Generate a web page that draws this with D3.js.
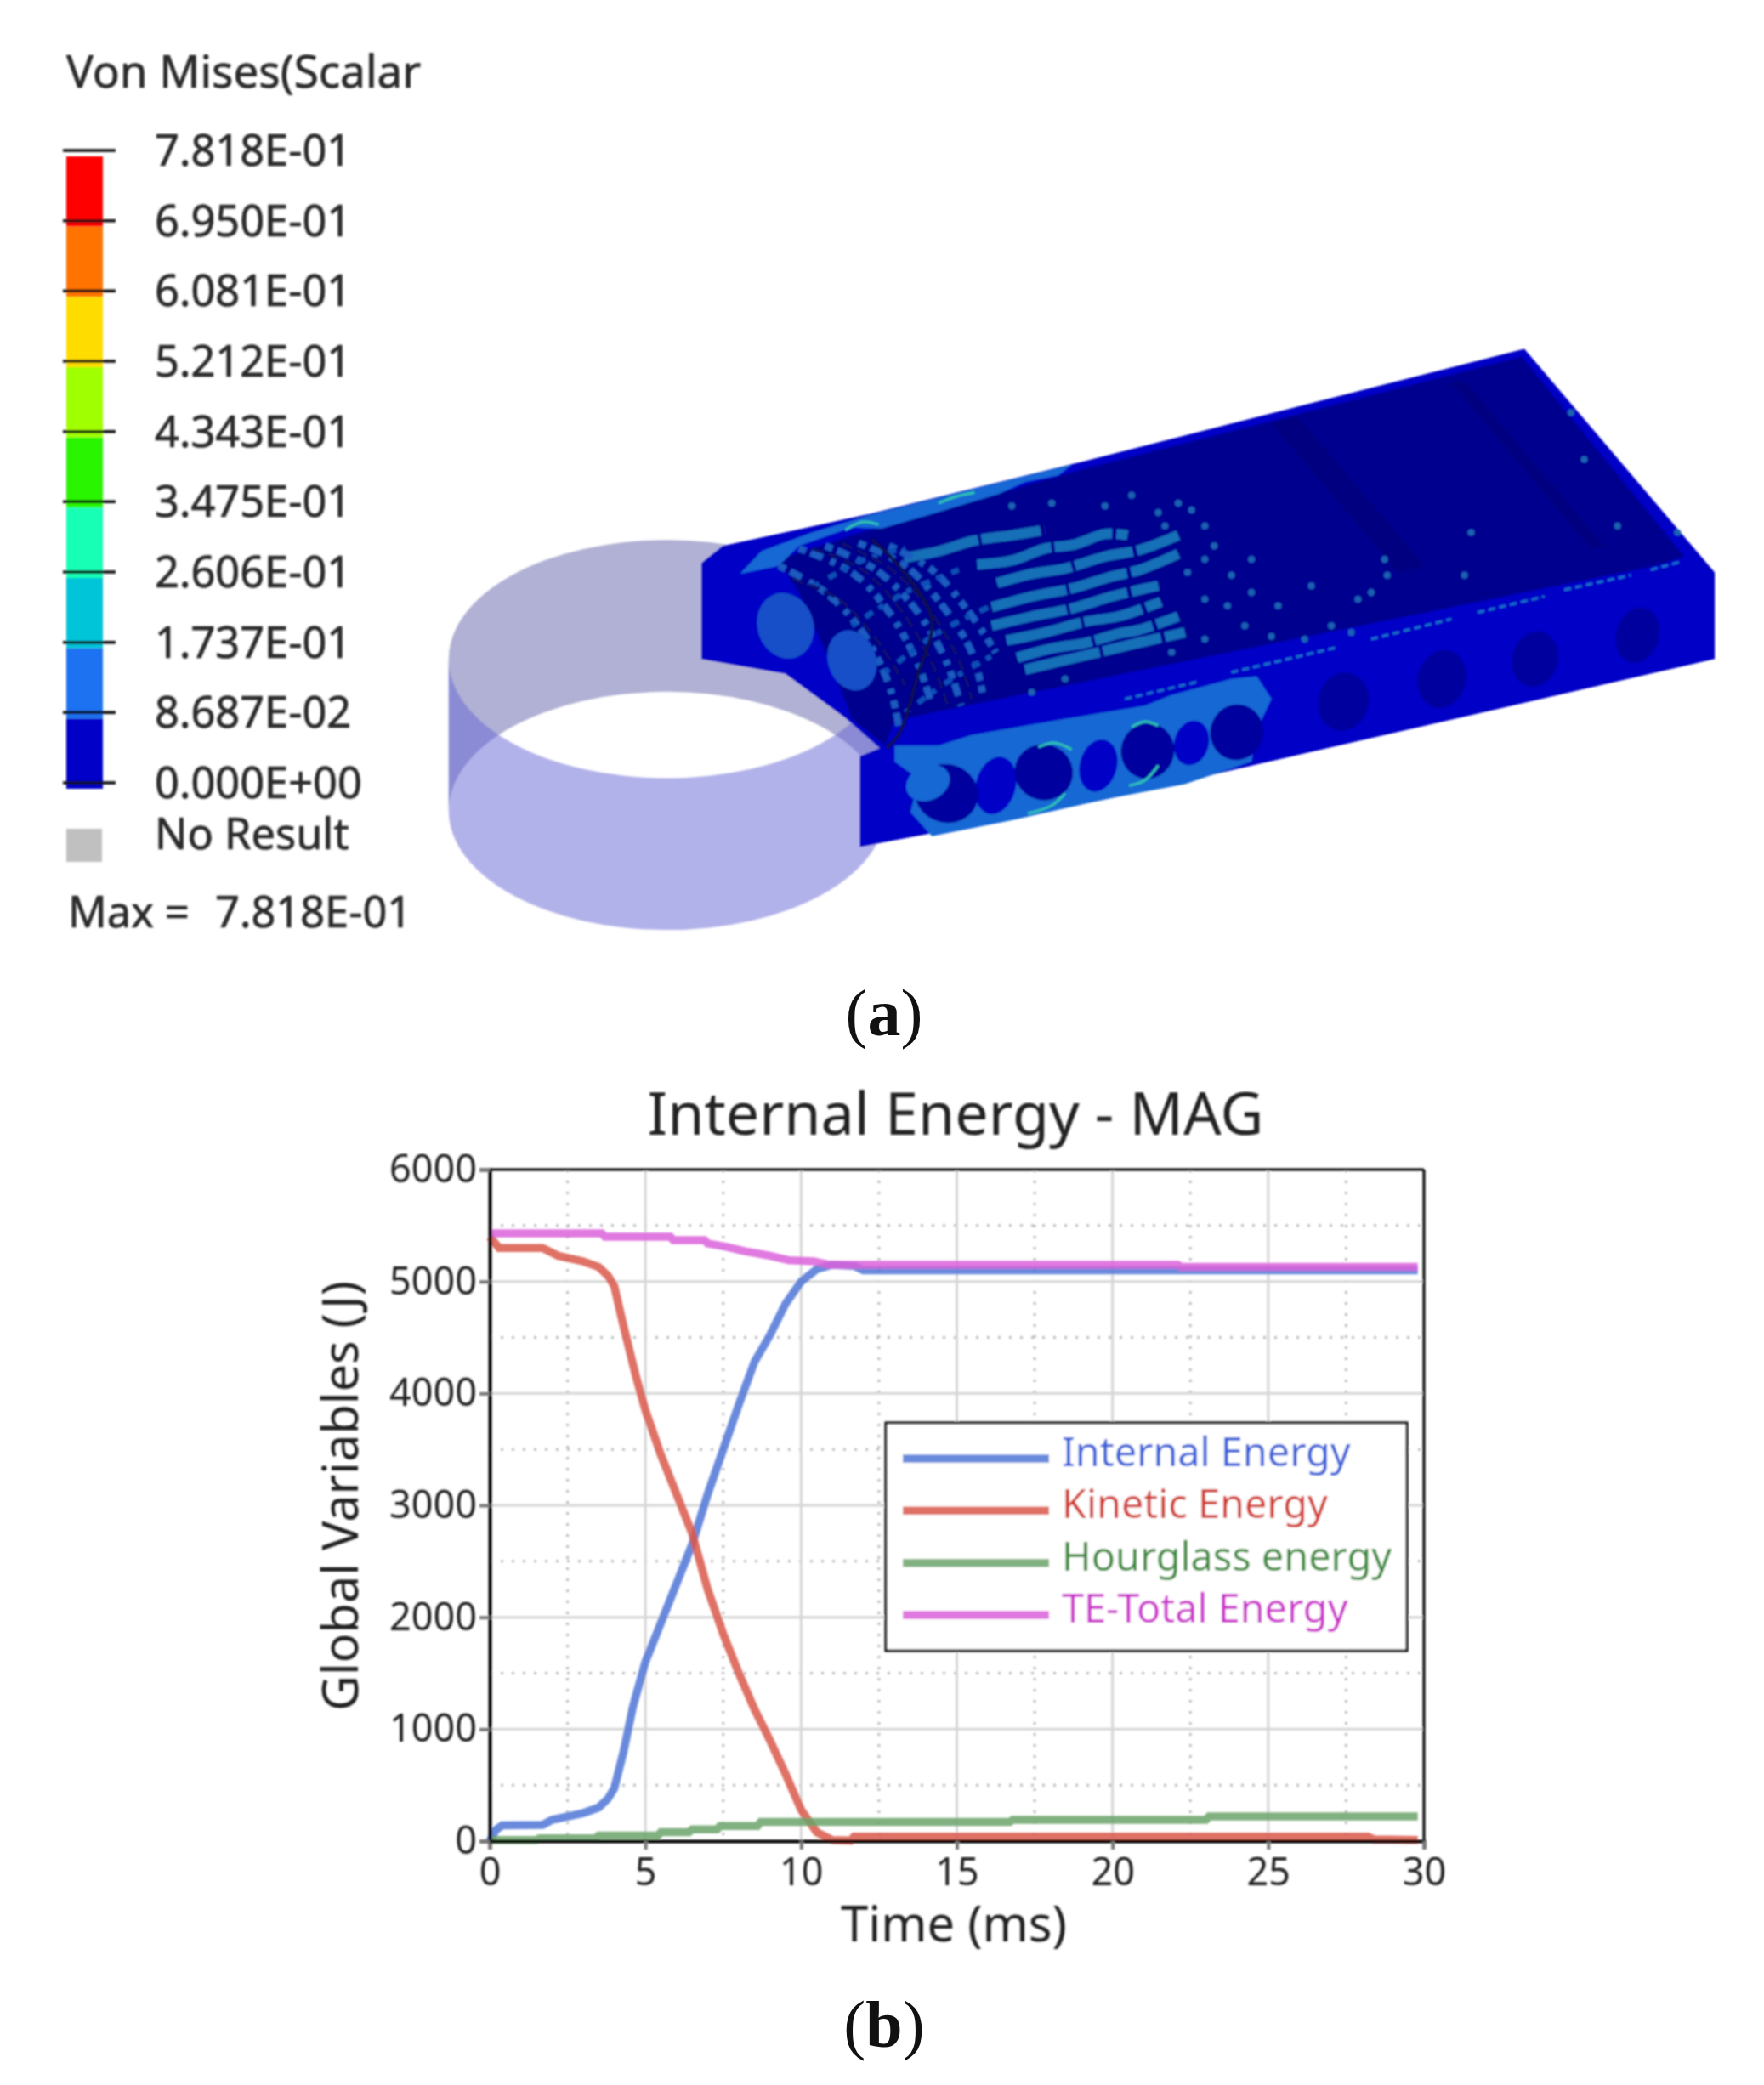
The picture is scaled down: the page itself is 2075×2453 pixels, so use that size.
<!DOCTYPE html>
<html>
<head>
<meta charset="utf-8">
<title>Internal Energy - MAG</title>
<script src="https://cdn.jsdelivr.net/npm/d3@7"></script>
<style>
  body { margin: 0; background: #fff; }
  svg { display: block; }
  text { font-family: "Noto Sans", "Open Sans", sans-serif; }
</style>
</head>
<body>
<div id="chart"></div>
<script>
// Contour legend
const legendLabels = ["7.818E-01", "6.950E-01", "6.081E-01", "5.212E-01", "4.343E-01", "3.475E-01", "2.606E-01", "1.737E-01", "8.687E-02", "0.000E+00"];
const legendColors = ["#ff0000", "#ff7300", "#ffdc00", "#a0ff00", "#2cf500", "#18ffb4", "#00c4d8", "#1a72f0", "#0000c8"];

// Energy curves: [time in ms, energy in J]
const internalEnergy = [[0,0],[0.2,100],[0.4,140],[1.7,145],[2,190],[3,250],[3.5,300],[3.8,380],[4,470],[4.3,800],[4.6,1200],[5,1600],[5.5,1950],[6,2300],[6.5,2650],[7,3100],[7.5,3500],[8,3900],[8.5,4280],[9,4520],[9.5,4800],[10,5000],[10.5,5110],[11,5150],[11.7,5140],[12,5100],[29.8,5100]];
const kineticEnergy = [[0,5400],[0.3,5300],[1.7,5300],[2.2,5230],[3,5180],[3.5,5130],[3.8,5050],[4,4960],[4.3,4600],[4.7,4150],[5,3850],[5.5,3450],[6,3100],[6.5,2750],[7,2250],[7.5,1850],[8,1500],[8.5,1180],[9,900],[9.5,600],[10,280],[10.5,80],[11,10],[11.6,5],[11.7,40],[28.2,40],[28.4,15],[29.8,10]];
const hourglassEnergy = [[0,10],[1.5,10],[1.6,25],[3.4,25],[3.5,50],[5.4,50],[5.5,80],[6.4,80],[6.5,105],[7.3,105],[7.4,135],[8.6,135],[8.7,170],[16.7,170],[16.8,190],[23,190],[23.1,220],[29.8,220]];
const totalEnergy = [[0,5430],[3.6,5430],[3.7,5400],[5.8,5400],[5.9,5370],[6.9,5370],[7,5340],[7.6,5310],[8.2,5270],[9,5230],[9.6,5190],[10.4,5180],[10.9,5150],[22.1,5150],[22.2,5130],[29.8,5130]];

const chartSeries = ["Internal Energy", "Kinetic Energy", "Hourglass energy", "TE-Total Energy"];
const chartValues = [internalEnergy, kineticEnergy, hourglassEnergy, totalEnergy];
const lineColors = ["#4f76d6", "#d9574a", "#6ba36b", "#da62da"];
const labelColors = ["#3a62d8", "#d13b30", "#3c8c3c", "#cc33cc"];
const xTicks = [0, 5, 10, 15, 20, 25, 30];
const yTicks = [0, 1000, 2000, 3000, 4000, 5000, 6000];
const xMinor = [2.5, 7.5, 12.5, 17.5, 22.5, 27.5];
const yMinor = [500, 1500, 2500, 3500, 4500, 5500];

// Outlines of the FE model in model units
const plateOutline = [[527,423],[543,410],[653,386],[808,348],[1145,262],[1288,430],[1288,495],[832,600],[720,622],[646,636],[646,568],[661,562],[635,539],[590,506],[527,495]];
const plateFloor = [[585,420],[653,398],[808,354],[1143,268],[1265,418],[1243,425],[672,541],[665,560],[640,540],[625,500],[600,445]];
const floorStrips = [[[955,318],[975,313],[1070,425],[1050,430]],[[1090,288],[1100,286],[1205,410],[1195,412]]];
const patchTopEdge = [[556,431],[572,414],[610,400],[653,387],[749,363],[805,349],[795,357],[770,362],[750,371],[720,380],[700,386],[662,397],[640,396],[600,410],[585,425]];
const patchFront = [[672,560],[705,560],[730,552],[800,540],[860,530],[880,522],[925,510],[944,508],[955,525],[944,548],[940,572],[890,589],[832,600],[760,616],[700,628],[684,610],[690,585],[672,572]];
const stripes = [
  [[679,419],[705,414],[732,406],[760,402],[785,398]],
  [[734,424],[760,421],[785,412],[807,409],[830,401],[847,402]],
  [[749,438],[775,431],[800,427],[830,418],[856,413],[885,402]],
  [[745,456],[775,448],[805,442],[835,433],[856,428],[885,416]],
  [[745,470],[775,463],[805,457],[835,448],[856,443],[870,440]],
  [[756,481],[785,475],[815,467],[840,463],[856,458],[872,452]],
  [[764,494],[790,487],[815,483],[840,476],[856,473],[885,463]],
  [[770,503],[795,497],[825,490],[850,484],[890,475]]
];
const specks = [[760,380],[790,378],[830,380],[850,372],[870,385],[905,395],[905,420],[925,432],[905,450],[940,445],[960,455],[985,440],[1000,470],[1020,450],[905,480],[880,490],[1042,432],[980,480],[1105,400],[1100,432],[1040,420],[1180,310],[1190,345],[1215,395],[1260,400],[895,383],[885,378],[912,410],[922,455],[955,478],[875,395],[892,430],[935,470],[1015,475],[1030,445],[940,420],[800,510],[775,520]];
const meshLight = [
  [[600,412],[640,430],[668,460],[690,500],[700,530]],
  [[620,410],[658,428],[688,458],[710,495],[722,530]],
  [[645,408],[680,425],[708,455],[730,490],[738,520]],
  [[585,425],[620,445],[648,475],[668,515],[675,545]],
  [[668,410],[700,428],[728,460],[748,490]]
];
const meshCross = [[[612,440],[650,420],[680,412]],[[640,470],[680,445],[720,428]],[[665,505],[705,475],[745,455]],[[680,535],[715,510],[750,490]]];
const meshDark = [
  [[610,412],[648,428],[678,460],[700,498],[712,530]],
  [[632,408],[670,428],[698,458],[720,495],[730,525]],
  [[595,435],[630,450],[658,480],[680,515]]
];
const darkArc = [[655,405],[675,425],[700,465],[690,505],[676,550],[666,562]];
const rimDashes = [[[845,525],[900,512]],[[925,505],[1005,486]],[[1030,480],[1090,465]],[[1110,460],[1160,448]],[[1175,443],[1225,432]],[[1240,428],[1262,422]]];
const tealArcs = [[[635,398],[648,392],[660,394]],[[705,378],[718,373],[732,370]],[[772,611],[790,605],[800,596]],[[780,561],[792,558],[805,563]],[[848,590],[860,586],[870,575]],[[850,546],[860,542],[870,545]]];
const holes = [[711,596,24,22],[784,580,22,21],[862,564,20,21],[929,550,20,21],[1009,527,19,22],[1083,510,18,22],[1153,495,17,21],[1230,477,16,21]];
const panelBlobs = [[748,590,15,22],[825,575,14,20],[895,558,13,17]];
const holeHighlight = [697,588,17,13];
const headDiscs = [[590,470,21,25],[640,496,18,23]];

const svg = d3.select("#chart").append("svg").attr("width", 2075).attr("height", 2453);
const defs = svg.append("defs");
defs.append("filter").attr("id", "soft").append("feGaussianBlur").attr("stdDeviation", 0.9);

// Legend of the contour plot
const legendY = d3.scalePoint().domain(legendLabels).range([177, 921]);
const legend = svg.append("g").attr("filter", "url(#soft)")
  .attr("stroke-linejoin", "round");
legend.append("text").attr("x", 78).attr("y", 103).attr("font-size", 53).attr("fill", "#2a2a2a").attr("stroke", "#2a2a2a").attr("stroke-width", 0.7).text("Von Mises(Scalar");
legend.selectAll("rect.band").data(legendColors).join("rect").attr("class", "band")
  .attr("x", 78).attr("width", 43)
  .attr("y", (d, i) => legendY(legendLabels[i]) + 7)
  .attr("height", legendY.step())
  .attr("fill", d => d);
legend.selectAll("line.tick").data(legendLabels).join("line").attr("class", "tick")
  .attr("x1", 74).attr("x2", 136)
  .attr("y1", d => legendY(d)).attr("y2", d => legendY(d))
  .attr("stroke", "#111").attr("stroke-width", 3.5);
const legendText = legend.append("g").attr("font-size", 50.5).attr("fill", "#2a2a2a").attr("stroke", "#2a2a2a").attr("stroke-width", 0.7);
legendText.selectAll("text.lab").data(legendLabels).join("text").attr("class", "lab")
  .attr("x", 182).attr("y", d => legendY(d) + 18).text(d => d);
legend.append("rect").attr("x", 78).attr("y", 975).attr("width", 42).attr("height", 39).attr("fill", "#c0c0c0");
legendText.append("text").attr("x", 182).attr("y", 999).text("No Result");
legendText.append("text").attr("x", 80).attr("y", 1091).text("Max =");
legendText.append("text").attr("x", 253).attr("y", 1091).text("7.818E-01");

// FE model
const mx = d3.scaleLinear().domain([0, 1325]).range([0, 2075]);
const my = d3.scaleLinear().domain([0, 1566]).range([0, 2453]);
const poly = d3.line().x(d => mx(d[0])).y(d => my(d[1]));
const smooth = d3.line().x(d => mx(d[0])).y(d => my(d[1])).curve(d3.curveCatmullRom);
const model = svg.append("g").attr("filter", "url(#soft)");

// ring: back wall and front wall between two ellipses
function wall(cy1, cy2, sweep) {
  const rx = mx(164), ry = my(89.5), l = mx(337), r = mx(665);
  return `M${l},${my(cy1)} A${rx},${ry} 0 0 ${sweep} ${r},${my(cy1)} L${r},${my(cy2)} A${rx},${ry} 0 0 ${1 - sweep} ${l},${my(cy2)} Z`;
}
model.append("path").attr("d", wall(495, 609, 1)).attr("fill", "#6464ac").attr("fill-opacity", 0.5);
model.append("path").attr("d", wall(495, 609, 0)).attr("fill", "#6666d6").attr("fill-opacity", 0.5);

function ellipses(cls, data, angle, fill) {
  model.selectAll("ellipse." + cls).data(data).join("ellipse").attr("class", cls)
    .attr("cx", d => mx(d[0])).attr("cy", d => my(d[1])).attr("rx", d => mx(d[2])).attr("ry", d => my(d[3]))
    .attr("transform", d => `rotate(${angle} ${mx(d[0])} ${my(d[1])})`)
    .attr("fill", fill);
}

model.append("path").attr("d", poly(plateOutline) + "Z").attr("fill", "#0303c6");
model.append("path").attr("d", poly(plateFloor) + "Z").attr("fill", "#01018e");
model.selectAll("path.strip").data(floorStrips).join("path").attr("class", "strip")
  .attr("d", d => poly(d) + "Z").attr("fill", "#00007c").attr("fill-opacity", 0.7);
model.selectAll("path.patch").data([patchTopEdge, patchFront]).join("path").attr("class", "patch")
  .attr("d", d => poly(d) + "Z").attr("fill", "#1468d4");
model.selectAll("path.stripe").data(stripes).join("path").attr("class", "stripe")
  .attr("d", d => smooth(d)).attr("fill", "none")
  .attr("stroke", "#1870b8").attr("stroke-width", 12).attr("stroke-dasharray", "90 4 70 5");
model.selectAll("circle.speck").data(specks).join("circle").attr("class", "speck")
  .attr("cx", d => mx(d[0])).attr("cy", d => my(d[1])).attr("r", 4).attr("fill", "#1a62b4");
model.selectAll("path.meshl").data(meshLight).join("path").attr("class", "meshl")
  .attr("d", d => smooth(d)).attr("fill", "none")
  .attr("stroke", "#1a5cc0").attr("stroke-width", 8).attr("stroke-dasharray", "9 6 15 10 6 8");
model.selectAll("path.meshc").data(meshCross).join("path").attr("class", "meshc")
  .attr("d", d => smooth(d)).attr("fill", "none")
  .attr("stroke", "#1050b8").attr("stroke-width", 6).attr("stroke-dasharray", "6 13 10 9");
model.selectAll("path.meshd").data(meshDark).join("path").attr("class", "meshd")
  .attr("d", d => smooth(d)).attr("fill", "none")
  .attr("stroke", "#0a1070").attr("stroke-width", 4).attr("stroke-dasharray", "14 6");
ellipses("disc", headDiscs, -18, "#1250c8");
model.append("path").attr("d", smooth(darkArc)).attr("fill", "none").attr("stroke", "#0a1050").attr("stroke-width", 4);
ellipses("blob", panelBlobs, 15, "#0303c6");
ellipses("hole", holes, 15, "#02029e");
ellipses("high", [holeHighlight], -25, "#1468d4");
model.selectAll("path.rim").data(rimDashes).join("path").attr("class", "rim")
  .attr("d", d => poly(d)).attr("stroke", "#1a70c8").attr("stroke-width", 3).attr("stroke-dasharray", "8 5");
model.selectAll("path.teal").data(tealArcs).join("path").attr("class", "teal")
  .attr("d", d => smooth(d)).attr("fill", "none").attr("stroke", "#30c4b0").attr("stroke-width", 3);

// Energy plot
const x = d3.scaleLinear().domain([0, 30]).range([576, 1675]);
const y = d3.scaleLinear().domain([0, 6000]).range([2166, 1376]);
const plot = svg.append("g").attr("filter", "url(#soft)");

plot.selectAll("line.minorx").data(xMinor).join("line").attr("class", "minorx")
  .attr("x1", d => x(d)).attr("x2", d => x(d)).attr("y1", y(6000)).attr("y2", y(0))
  .attr("stroke", "#bbb").attr("stroke-width", 3).attr("stroke-dasharray", "3 10");
plot.selectAll("line.minory").data(yMinor).join("line").attr("class", "minory")
  .attr("x1", x(0)).attr("x2", x(30)).attr("y1", d => y(d)).attr("y2", d => y(d))
  .attr("stroke", "#bbb").attr("stroke-width", 3).attr("stroke-dasharray", "3 10");
plot.selectAll("line.majorx").data(xTicks.slice(1, -1)).join("line").attr("class", "majorx")
  .attr("x1", d => x(d)).attr("x2", d => x(d)).attr("y1", y(6000)).attr("y2", y(0))
  .attr("stroke", "#d6d6d6").attr("stroke-width", 3);
plot.selectAll("line.majory").data(yTicks.slice(1, -1)).join("line").attr("class", "majory")
  .attr("x1", x(0)).attr("x2", x(30)).attr("y1", d => y(d)).attr("y2", d => y(d))
  .attr("stroke", "#d6d6d6").attr("stroke-width", 3);

const line = d3.line().x(d => x(d[0])).y(d => y(d[1]));
plot.selectAll("path.series").data(chartValues).join("path").attr("class", "series")
  .attr("d", line).attr("fill", "none")
  .attr("stroke", (d, i) => lineColors[i]).attr("stroke-width", 9.5).attr("stroke-opacity", 0.85);

const xAxis = d3.axisBottom(x).tickValues(xTicks).tickSize(10).tickPadding(10).tickFormat(d3.format("d"));
const yAxis = d3.axisLeft(y).tickValues(yTicks).tickSize(12).tickPadding(3).tickFormat(d3.format("d"));
const gx = plot.append("g").attr("transform", `translate(0,${y(0)})`).call(xAxis);
const gy = plot.append("g").attr("transform", `translate(${x(0)},0)`).call(yAxis);
[gx, gy].forEach(g => {
  g.selectAll(".tick line").attr("stroke", "#777").attr("stroke-width", 4);
  g.selectAll(".tick text").attr("font-size", 45).attr("fill", "#222")
    .style("font-family", '"Noto Sans", sans-serif');
  g.select(".domain").attr("stroke", "#000").attr("stroke-width", 4);
});
plot.append("line").attr("x1", x(0)).attr("x2", x(30)).attr("y1", y(6000)).attr("y2", y(6000)).attr("stroke", "#000").attr("stroke-width", 3);
plot.append("line").attr("x1", x(30)).attr("x2", x(30)).attr("y1", y(6000)).attr("y2", y(0)).attr("stroke", "#000").attr("stroke-width", 3);

plot.append("text").attr("x", 1124).attr("y", 1335).attr("text-anchor", "middle").attr("font-size", 70).attr("fill", "#222").text("Internal Energy - MAG");
plot.append("text").attr("x", 1122).attr("y", 2284).attr("text-anchor", "middle").attr("font-size", 58).attr("fill", "#222").text("Time (ms)");
plot.append("text").attr("transform", "translate(421,1760) rotate(-90)").attr("text-anchor", "middle").attr("font-size", 57.5).attr("fill", "#222").text("Global Variables (J)");

// Series legend
const keyY = d3.scalePoint().domain(chartSeries).range([1716, 1900]);
plot.append("rect").attr("x", 1042).attr("y", 1674).attr("width", 613).attr("height", 268)
  .attr("fill", "#fff").attr("stroke", "#000").attr("stroke-width", 3);
plot.selectAll("line.key").data(chartSeries).join("line").attr("class", "key")
  .attr("x1", 1062).attr("x2", 1234).attr("y1", d => keyY(d)).attr("y2", d => keyY(d))
  .attr("stroke", (d, i) => lineColors[i]).attr("stroke-width", 9.5).attr("stroke-opacity", 0.85);
plot.selectAll("text.key").data(chartSeries).join("text").attr("class", "key")
  .attr("x", 1249).attr("y", d => keyY(d) + 9).attr("font-size", 46.8)
  .attr("fill", (d, i) => labelColors[i]).text(d => d);

// Panel letters
[["a", 1218], ["b", 2408]].forEach(([letter, baseline]) => {
  const t = svg.append("text").attr("x", 1040).attr("y", baseline).attr("text-anchor", "middle")
    .attr("font-size", 78).attr("fill", "#111").style("font-family", '"Liberation Serif", serif');
  t.append("tspan").text("(");
  t.append("tspan").attr("font-weight", "bold").text(letter);
  t.append("tspan").text(")");
});
</script>
</body>
</html>
